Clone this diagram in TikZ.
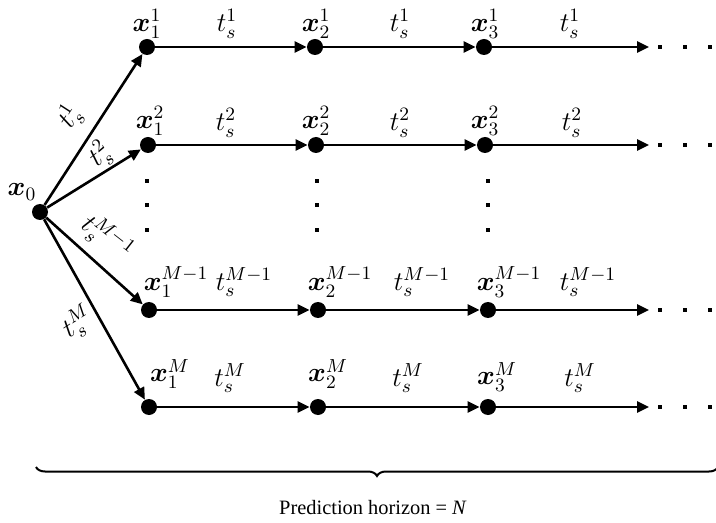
\RequirePackage{fix-cm}
\documentclass[tikz,border=0pt]{standalone}
\usepackage[no-math]{fontspec}
\usepackage{amsmath}
\newfontfamily\capfont{Liberation Serif}
\usetikzlibrary{arrows.meta,decorations.pathreplacing}
\begin{document}
\begin{tikzpicture}[x=0.5pt,y=-0.5pt,
  dot/.style={circle,fill=black,inner sep=0pt,minimum size=8pt},
  sq/.style={rectangle,fill=black,inner sep=0pt,minimum size=2.2pt},
  arr/.style={line width=1.3pt,-{Triangle[length=6pt,width=5.5pt]}},
  lab/.style={inner sep=0pt,font=\fontsize{13.5}{16}\selectfont},
]
\useasboundingbox (0,0) rectangle (716,523);
% nodes
\node[dot] (x0) at (40,212) {};
\node[dot] (a1) at (147,47) {};
\node[dot] (b1) at (315,47) {};
\node[dot] (c1) at (484,47) {};
\node[dot] (a2) at (148,145) {};
\node[dot] (b2) at (316,145) {};
\node[dot] (c2) at (485,145) {};
\node[dot] (a3) at (149,310) {};
\node[dot] (b3) at (318,310) {};
\node[dot] (c3) at (488,310) {};
\node[dot] (a4) at (149,407) {};
\node[dot] (b4) at (318,407) {};
\node[dot] (c4) at (488,407) {};
\coordinate (e1) at (649,47);
\coordinate (e2) at (649,145);
\coordinate (e3) at (649,310);
\coordinate (e4) at (649,407);
% trailing dots
\foreach \yy in {47,145,310,407}{
  \foreach \xx in {660,685,710}{
    \node[sq] at (\xx,\yy) {};
  }
}
% vertical dots
\foreach \xx in {147,317,488}{
  \foreach \yy in {181,205,230}{
    \node[sq,minimum size=2.3pt] at (\xx,\yy) {};
  }
}
% arrows
\draw[arr] (x0) -- (a1);
\draw[arr] (x0) -- (a2);
\draw[arr] (x0) -- (a3);
\draw[arr] (x0) -- (a4);
\foreach \r in {1,2,3,4}{
  \draw[arr] (a\r) -- (b\r);
  \draw[arr] (b\r) -- (c\r);
  \draw[arr] (c\r) -- (e\r);
}
% state labels
\node[lab] (lx0) at (22,192) {$\boldsymbol{x}_0$};
\node[lab] (la1) at (147,24) {$\boldsymbol{x}_1^1$};
\node[lab] (lb1) at (316,24) {$\boldsymbol{x}_2^1$};
\node[lab] (lc1) at (485,24) {$\boldsymbol{x}_3^1$};
\node[lab] (la2) at (150,121) {$\boldsymbol{x}_1^2$};
\node[lab] (lb2) at (316,121) {$\boldsymbol{x}_2^2$};
\node[lab] (lc2) at (485,121) {$\boldsymbol{x}_3^2$};
\node[lab] (la3) at (176,282) {$\boldsymbol{x}_1^{M-1}$};
\node[lab] (lb3) at (340,282) {$\boldsymbol{x}_2^{M-1}$};
\node[lab] (lc3) at (509,282) {$\boldsymbol{x}_3^{M-1}$};
\node[lab] (la4) at (170,374) {$\boldsymbol{x}_1^M$};
\node[lab] (lb4) at (328,374) {$\boldsymbol{x}_2^M$};
\node[lab] (lc4) at (497,377) {$\boldsymbol{x}_3^M$};
% step labels
\node[lab] (t11) at (227,24) {$t_s^1$};
\node[lab] (t12) at (400,24) {$t_s^1$};
\node[lab] (t13) at (570,24) {$t_s^1$};
\node[lab] (t21) at (226,123) {$t_s^2$};
\node[lab] (t22) at (400,123) {$t_s^2$};
\node[lab] (t23) at (572,123) {$t_s^2$};
\node[lab] (t31) at (244,282) {$t_s^{M-1}$};
\node[lab] (t32) at (422,282) {$t_s^{M-1}$};
\node[lab] (t33) at (588,282) {$t_s^{M-1}$};
\node[lab] (t41) at (230,378) {$t_s^M$};
\node[lab] (t42) at (408,378) {$t_s^M$};
\node[lab] (t43) at (580,378) {$t_s^M$};
% diagonal labels
\node[lab,rotate=57] (d1) at (70,117) {$t_s^1$};
\node[lab,rotate=40] (d2) at (100,155) {$t_s^2$};
\node[lab,rotate=-38] (d3) at (107,238) {$t_s^{M-1}$};
\node[lab,rotate=33] (d4) at (78,323) {$t_s^M$};
% brace
\coordinate (bl) at (36,467);
\coordinate (br) at (718,467);
\draw[line width=1pt,decorate,decoration={brace,mirror,amplitude=4.5pt}] (bl) -- (br);
\node[inner sep=0pt,font=\capfont\fontsize{10.2}{12}\selectfont] (ph) at (373,508) {Prediction horizon = \textit{N}};
\end{tikzpicture}
\end{document}
